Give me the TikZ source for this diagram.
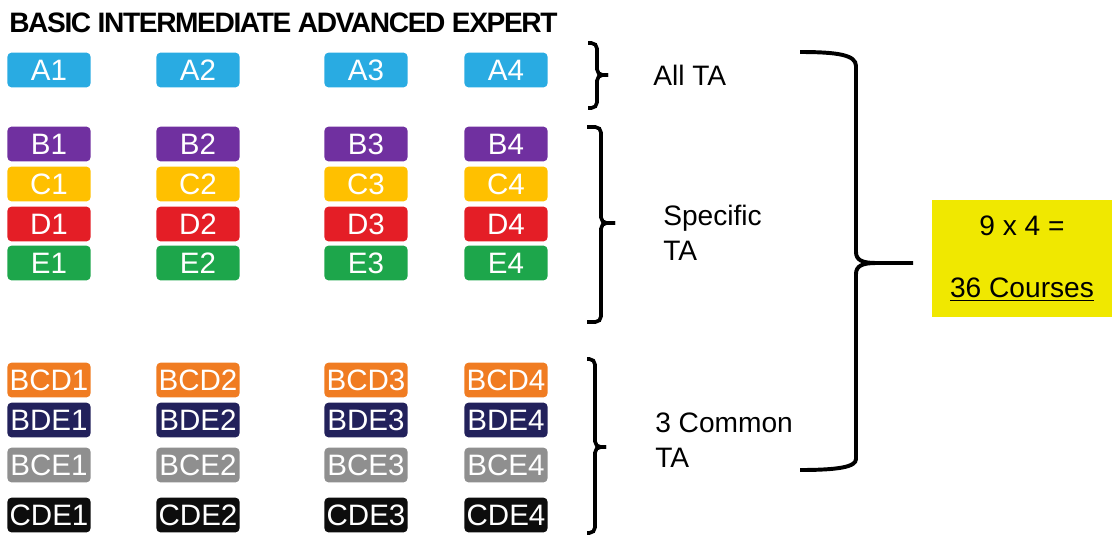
\documentclass[tikz,border=0pt]{standalone}
\usepackage{fontspec}
\setmainfont{Liberation Sans}
\newfontfamily\headfont{Liberation Sans}[LetterSpace=-4.9]
\usetikzlibrary{positioning}
\definecolor{taBlue}{HTML}{29ABE2}
\definecolor{taPurple}{HTML}{7030A0}
\definecolor{taGold}{HTML}{FFC000}
\definecolor{taRed}{HTML}{E41E26}
\definecolor{taGreen}{HTML}{1DA64B}
\definecolor{taOrange}{HTML}{F07C22}
\definecolor{taNavy}{HTML}{22215B}
\definecolor{taGray}{HTML}{8F8F8F}
\definecolor{taBlack}{HTML}{0D0D0D}
\definecolor{taYellow}{HTML}{F0E800}
\tikzset{
  course/.style={rectangle, rounded corners=3pt, text=white, inner sep=0pt,
                 minimum width=2.08cm, minimum height=0.87cm,
                 font=\fontsize{21}{21}\selectfont},
  taLabel/.style={align=left, inner sep=0pt, font=\fontsize{20}{25}\selectfont},
  braceR/.style={line width=2.6pt, rounded corners=4pt},
  braceBig/.style={line width=2.8pt},
  totalBox/.style={rectangle, fill=taYellow, align=center, inner sep=0pt,
                   minimum width=4.5cm, minimum height=2.93cm,
                   font=\fontsize{20}{24}\selectfont},
}

\begin{document}
\begin{tikzpicture}[x=0.025cm, y=-0.025cm]
  \useasboundingbox (0,0) rectangle (1115,534);

  % level headings
  \node[anchor=base west, inner sep=0pt, font=\headfont\bfseries\fontsize{20}{22}\selectfont]
    (head) at (9,32) {BASIC INTERMEDIATE ADVANCED EXPERT};

  % course grid: one row per area, one column per level
  \foreach \row/\y/\col in {A/70/taBlue, B/144/taPurple, C/184/taGold,
      D/224/taRed, E/263/taGreen, BCD/380/taOrange, BDE/420/taNavy,
      BCE/465/taGray, CDE/515/taBlack}
    \foreach \n/\x in {1/49, 2/198, 3/366, 4/506}
      \node[course, fill=\col] (\row\n) at (\x,\y) {\row\n};

  % group braces
  \draw[braceR] (588,43) -| (597,75) -- (608,75);
  \draw[braceR] (588,108) -| (597,75) -- (608,75);
  \draw[braceR] (587,127) -| (601,223) -- (615,223);
  \draw[braceR] (587,322) -| (601,223) -- (615,223);
  \draw[braceR] (587,359) -| (595,447) -- (606,447);
  \draw[braceR] (587,533) -| (595,447) -- (606,447);

  \node[taLabel, anchor=base west] (allta) at (653,85) {All TA};
  \node[taLabel, anchor=west] (spec) at (663,233) {Specific\\TA};
  \node[taLabel, anchor=west] (common) at (655,440) {3 Common\\TA};

  % total
  \node[totalBox] (total) at (1022,258.5) {9 x 4 =\\[20pt]\underline{36 Courses}};

  \draw[braceBig] (800,52) .. controls (838,52) and (856,55) .. (856,66)
    -- (856,252) .. controls (856,260) and (862,263) .. (876,263) -- (913,263)
    (876,263) .. controls (862,263) and (856,266) .. (856,274)
    -- (856,459) .. controls (856,467) and (838,470) .. (800,470);
\end{tikzpicture}
\end{document}
